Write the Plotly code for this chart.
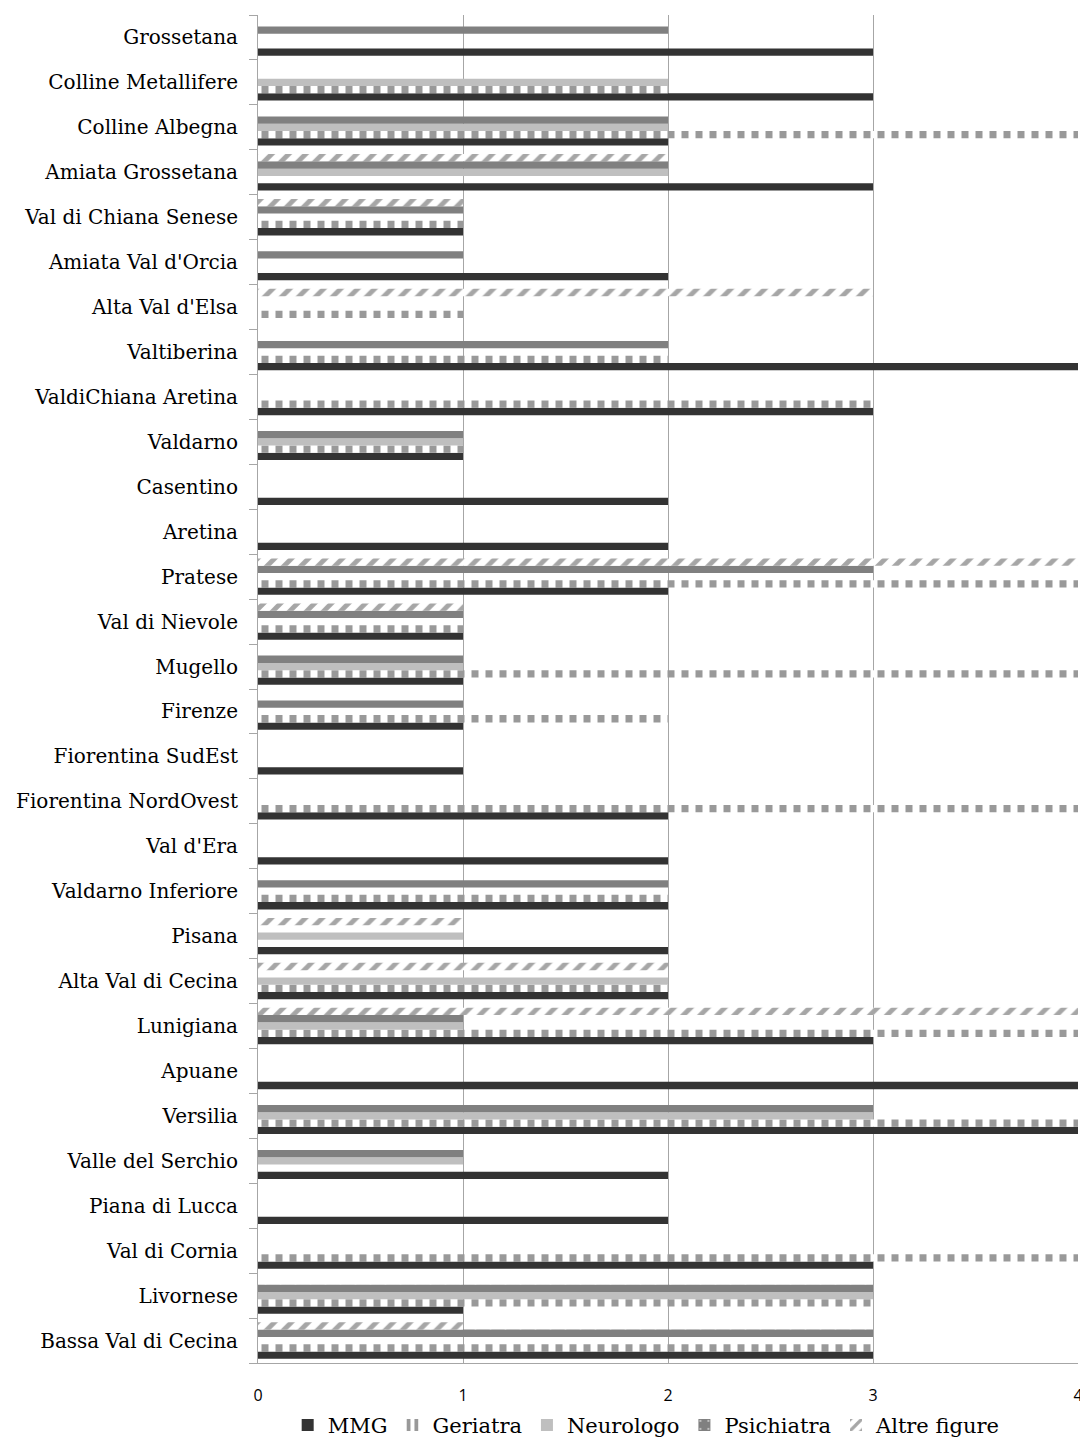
import plotly.graph_objects as go

categories = [
    "Grossetana", "Colline Metallifere", "Colline Albegna", "Amiata Grossetana",
    "Val di Chiana Senese", "Amiata Val d'Orcia", "Alta Val d'Elsa", "Valtiberina",
    "ValdiChiana Aretina", "Valdarno", "Casentino", "Aretina", "Pratese",
    "Val di Nievole", "Mugello", "Firenze", "Fiorentina SudEst", "Fiorentina NordOvest",
    "Val d'Era", "Valdarno Inferiore", "Pisana", "Alta Val di Cecina", "Lunigiana",
    "Apuane", "Versilia", "Valle del Serchio", "Piana di Lucca", "Val di Cornia",
    "Livornese", "Bassa Val di Cecina",
]

mmg        = [3, 3, 2, 3, 1, 2, 0, 4, 3, 1, 2, 2, 2, 1, 1, 1, 1, 2, 2, 2, 2, 2, 3, 4, 4, 2, 2, 3, 1, 3]
geriatra   = [0, 2, 4, 0, 1, 0, 1, 2, 3, 1, 0, 0, 4, 1, 4, 2, 0, 4, 0, 2, 0, 2, 4, 0, 4, 0, 0, 4, 3, 3]
neurologo  = [0, 2, 2, 2, 0, 0, 0, 0, 0, 1, 0, 0, 0, 0, 1, 0, 0, 0, 0, 0, 1, 2, 1, 0, 3, 1, 0, 0, 3, 0]
psichiatra = [2, 0, 2, 2, 1, 1, 0, 2, 0, 1, 0, 0, 3, 1, 1, 1, 0, 0, 0, 2, 0, 0, 1, 0, 3, 1, 0, 0, 3, 3]
altre      = [0, 0, 0, 2, 1, 0, 3, 0, 0, 0, 0, 0, 4, 1, 0, 0, 0, 0, 0, 0, 1, 2, 4, 0, 0, 0, 0, 0, 0, 1]

x_ticks = [0, 1, 2, 3, 4]

SERIF = "DejaVu Serif"

fig = go.Figure()

fig.add_trace(go.Bar(
    y=categories, x=mmg, name="MMG", orientation="h",
    marker=dict(color="#333333", line=dict(width=0)),
))
fig.add_trace(go.Bar(
    y=categories, x=geriatra, name="Geriatra", orientation="h",
    marker=dict(color="white", line=dict(width=0),
                pattern=dict(shape="|", fgcolor="#999999", bgcolor="white",
                             size=14, solidity=0.5, fillmode="replace")),
))
fig.add_trace(go.Bar(
    y=categories, x=neurologo, name="Neurologo", orientation="h",
    marker=dict(color="#bfbfbf", line=dict(width=0)),
))
fig.add_trace(go.Bar(
    y=categories, x=psichiatra, name="Psichiatra", orientation="h",
    marker=dict(color="#808080", line=dict(width=0),
                pattern=dict(shape=".", fgcolor="#d4d4d4", bgcolor="#808080",
                             size=15, solidity=0.05, fillmode="replace")),
))
fig.add_trace(go.Bar(
    y=categories, x=altre, name="Altre figure", orientation="h",
    marker=dict(color="white", line=dict(width=0),
                pattern=dict(shape="/", fgcolor="#a6a6a6", bgcolor="white",
                             size=12, solidity=0.4, fillmode="replace")),
))

fig.update_layout(
    width=1080, height=1433,
    barmode="group", bargap=0.19, bargroupgap=0,
    plot_bgcolor="white", paper_bgcolor="white",
    margin=dict(l=250, r=10, t=7, b=78, autoexpand=False),
    font=dict(family=SERIF, size=20, color="black"),
    legend=dict(orientation="h", x=0.474, xanchor="center",
                yref="container", y=0.011, yanchor="middle",
                bgcolor="rgba(0,0,0,0)",
                font=dict(family=SERIF, size=21, color="black"),
                itemwidth=30, traceorder="normal"),
    xaxis=dict(range=[0, 4], tickvals=x_ticks, showgrid=True, gridcolor="#a6a6a6", gridwidth=1,
               zeroline=False, showline=True, linecolor="#a6a6a6", linewidth=1,
               ticks="outside", ticklen=18, tickcolor="rgba(0,0,0,0)",
               tickfont=dict(family="Open Sans", size=16, color="black")),
    yaxis=dict(categoryorder="array", categoryarray=categories[::-1],
               showline=True, linecolor="#a6a6a6", linewidth=1,
               ticks="outside", ticklen=8, tickcolor="#a6a6a6", tickson="boundaries",
               ticklabelstandoff=15, showgrid=False,
               tickfont=dict(family=SERIF, size=20, color="black")),
)

fig.write_html("out.html")
